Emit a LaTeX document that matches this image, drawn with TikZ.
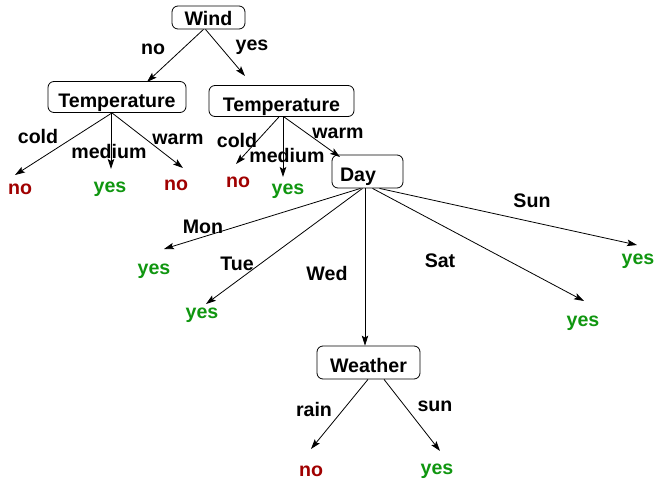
\documentclass[tikz,border=0pt]{standalone}
\usepackage{fontspec}
\setmainfont{Liberation Sans}
\usetikzlibrary{arrows.meta}
\definecolor{leafno}{RGB}{160,0,0}
\definecolor{leafyes}{RGB}{16,150,16}
\begin{document}
\begin{tikzpicture}[x=1pt,y=-1pt,
  every node/.style={font=\fontsize{19.6}{22}\selectfont\bfseries, inner sep=0pt},
  test/.style={draw, rounded corners=6pt, line width=0.8pt, minimum height=31pt,
    inner xsep=8pt, text height=20pt, text depth=0pt},
  lbl/.style={yshift=-2.5pt},
  noleaf/.style={text=leafno, yshift=-2.5pt},
  yesleaf/.style={text=leafyes, yshift=-2.5pt},
  edge/.style={line width=0.8pt, -{Stealth[length=10pt,width=6.5pt,inset=2pt]}}]
\useasboundingbox (0,0) rectangle (657,480);

% decision nodes
\node[test, minimum height=23pt, minimum width=73pt, text height=16pt] (wind) at (208.5,17.5) {Wind};
\node[test, minimum width=138pt] (t1) at (117,97) {Temperature};
\node[test, minimum width=145pt] (t2) at (281.5,101) {Temperature};
\node[test, minimum width=71pt, minimum height=33pt, text width=55pt, align=left] (day) at (367.5,171.5) {Day};
\node[test, minimum width=103pt, minimum height=33pt, text height=19pt] (weather) at (368.5,362.5) {Weather};

% leaves
\node[noleaf]  (l1) at (20,187) {no};
\node[yesleaf] (l2) at (110,187) {yes};
\node[noleaf]  (l3) at (176,183) {no};
\node[noleaf]  (l4) at (238,180) {no};
\node[yesleaf] (l5) at (288,189) {yes};
\node[yesleaf] (l6) at (154,269) {yes};
\node[yesleaf] (l7) at (202,313) {yes};
\node[yesleaf] (l8) at (583,321) {yes};
\node[yesleaf] (l9) at (638,259) {yes};
\node[noleaf]  (l10) at (311,468.5) {no};
\node[yesleaf] (l11) at (437,468.5) {yes};

% arrow tips above the leaves
\coordinate (a1) at (15,175);
\coordinate (a2) at (111,169);
\coordinate (a3) at (183,168);
\coordinate (a4) at (236,164);
\coordinate (a5) at (283,177);
\coordinate (a6) at (164,249);
\coordinate (a7) at (206,304);
\coordinate (a8) at (584,301);
\coordinate (a9) at (637,245);
\coordinate (a10) at (311,449);
\coordinate (a11) at (440,451);
\coordinate (a12) at (245,76);
\coordinate (a13) at (147,82);
\coordinate (a14) at (340,157);

% branches
\draw[edge] ([xshift=-5pt]wind.south) -- (a13);
\draw[edge] ([xshift=-3pt]wind.south) -- (a12);
\draw[edge] ([xshift=-5pt]t1.south) -- (a1);
\draw[edge] ([xshift=-6pt]t1.south) -- (a2);
\draw[edge] ([xshift=-5pt]t1.south) -- (a3);
\draw[edge] ([xshift=-2.5pt]t2.south) -- (a4);
\draw[edge] ([xshift=1.5pt]t2.south) -- (a5);
\draw[edge] ([xshift=2.5pt]t2.south) -- (a14);
\draw[edge] ([xshift=-7pt]day.south) -- (a6);
\draw[edge] ([xshift=-5pt]day.south) -- (a7);
\draw[edge] ([xshift=-2.5pt]day.south) -- ([xshift=-3.5pt]weather.north);
\draw[edge] ([xshift=5pt]day.south) -- (a8);
\draw[edge] ([xshift=12pt]day.south) -- (a9);
\draw[edge] ([xshift=-0.5pt]weather.south) -- (a10);
\draw[edge] ([xshift=15.5pt]weather.south) -- (a11);

% branch labels
\node[lbl] at (153,47) {no};
\node[lbl] at (252,45) {yes};
\node[lbl] at (38,134) {cold};
\node[lbl] at (109,149) {medium};
\node[lbl] at (178,137) {warm};
\node[lbl] at (237,138) {cold};
\node[lbl] at (287,153) {medium};
\node[lbl] at (338,131) {warm};
\node[lbl] at (203,224) {Mon};
\node[lbl] at (237,261) {Tue};
\node[lbl] at (327,271) {Wed};
\node[lbl] at (440,258) {Sat};
\node[lbl] at (532,198) {Sun};
\node[lbl] at (314,407) {rain};
\node[lbl] at (435,404) {sun};
\end{tikzpicture}
\end{document}
